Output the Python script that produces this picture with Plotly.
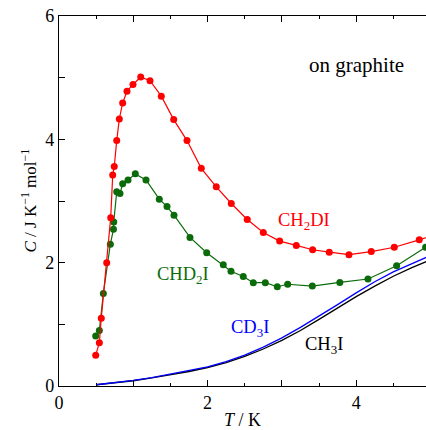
import plotly.graph_objects as go

# CH2DI (red points)
ch2di_T = [0.494, 0.543, 0.569, 0.642, 0.696, 0.723, 0.744, 0.777, 0.812, 0.857, 0.915,
           0.996, 1.10, 1.225, 1.377, 1.544, 1.723, 1.915, 2.117, 2.319, 2.534, 2.750,
           2.970, 3.194, 3.414, 3.638, 3.903, 4.203, 4.513, 4.849, 5.05]
ch2di_C = [0.50, 0.70, 1.10, 2.00, 2.73, 3.42, 3.56, 3.98, 4.33, 4.59, 4.78,
           4.89, 5.01, 4.95, 4.70, 4.32, 3.98, 3.53, 3.23, 2.96, 2.70, 2.49,
           2.35, 2.28, 2.21, 2.17, 2.13, 2.18, 2.25, 2.37, 2.45]

# CHD2I (green points)
chd2i_T = [0.494, 0.543, 0.597, 0.691, 0.733, 0.737, 0.777, 0.821, 0.857, 0.929, 1.027,
           1.171, 1.350, 1.454, 1.548, 1.763, 1.988, 2.211, 2.315, 2.48, 2.615, 2.777,
           2.938, 3.078, 3.41, 3.78, 4.159, 4.545, 4.935]
chd2i_C = [0.81, 0.90, 1.50, 2.30, 2.54, 2.66, 3.15, 3.12, 3.28, 3.34, 3.44,
           3.34, 3.03, 2.91, 2.77, 2.41, 2.16, 1.965, 1.86, 1.775, 1.675, 1.675,
           1.61, 1.65, 1.62, 1.68, 1.735, 1.95, 2.25]

# Smooth curves CD3I (blue) and CH3I (black)
curve_T = [0.5, 0.75, 1.0, 1.25, 1.5, 1.75, 2.0, 2.25, 2.5, 2.75, 3.0, 3.25, 3.5,
           3.75, 4.0, 4.25, 4.5, 4.75, 4.95]
ch3i_C = [0.02, 0.05, 0.085, 0.13, 0.18, 0.235, 0.30, 0.38, 0.48, 0.60, 0.74, 0.90, 1.08,
          1.27, 1.45, 1.62, 1.78, 1.92, 2.02]
cd3i_C = [0.02, 0.05, 0.09, 0.135, 0.19, 0.245, 0.31, 0.395, 0.50, 0.63, 0.78, 0.95, 1.13,
          1.32, 1.51, 1.69, 1.85, 1.99, 2.09]

x_ticks = [0, 1, 2, 3, 4]
x_ticktext = ["0", "", "2", "", "4"]
y_ticks = [0, 1, 2, 3, 4, 5, 6]
y_ticktext = ["0", "", "2", "", "4", "", "6"]

RED = "#ff0000"
GREEN = "#0b6b0b"
BLUE = "#0000ff"
BLACK = "#000000"
FONT = "Liberation Serif"

fig = go.Figure()
fig.add_trace(go.Scatter(x=curve_T, y=ch3i_C, mode="lines", line=dict(color=BLACK, width=1.3),
                         showlegend=False))
fig.add_trace(go.Scatter(x=curve_T, y=cd3i_C, mode="lines", line=dict(color=BLUE, width=1.3),
                         showlegend=False))
fig.add_trace(go.Scatter(x=chd2i_T, y=chd2i_C, mode="lines+markers",
                         line=dict(color=GREEN, width=1.2), marker=dict(color=GREEN, size=7),
                         showlegend=False))
fig.add_trace(go.Scatter(x=ch2di_T, y=ch2di_C, mode="lines+markers",
                         line=dict(color=RED, width=1.2), marker=dict(color=RED, size=7),
                         showlegend=False))

labels = [
    (3.30, 2.66, "CH<sub>2</sub>DI", RED, 18.5),
    (1.67, 1.80, "CHD<sub>2</sub>I", GREEN, 18.5),
    (2.57, 0.93, "CD<sub>3</sub>I", BLUE, 18.5),
    (3.57, 0.65, "CH<sub>3</sub>I", BLACK, 18.5),
    (4.0, 5.2, "on graphite", BLACK, 21),
]
for x, y, t, c, s in labels:
    fig.add_annotation(x=x, y=y, text=t, showarrow=False, font=dict(family=FONT, size=s, color=c))

# y-axis title as a rotated annotation, placed to match the reference
fig.add_annotation(x=-0.083, y=0.5, xref="paper", yref="paper", xanchor="center", yanchor="middle",
                   text="<i>C</i> / J K<sup>−1</sup> mol<sup>−1</sup>", textangle=-90, showarrow=False,
                   font=dict(family=FONT, size=17, color=BLACK))

fig.update_layout(
    width=426, height=430,
    margin=dict(l=59, r=0, t=16, b=44, autoexpand=False),
    plot_bgcolor="white", paper_bgcolor="white",
    font=dict(family=FONT, size=18, color="black"),
)
fig.update_xaxes(
    range=[0, 4.94], showgrid=False, zeroline=False, automargin=False,
    showline=True, linecolor="black", linewidth=1.2, mirror="ticks",
    ticks="inside", ticklen=6, tickwidth=1, tickcolor="black",
    tickvals=x_ticks, ticktext=x_ticktext, ticklabelstandoff=0,
    minor=dict(dtick=0.5, ticks="inside", ticklen=3, tickcolor="black", showgrid=False),
    title=dict(text="<i>T</i> / K", font=dict(family=FONT, size=18), standoff=2),
)
fig.update_yaxes(
    range=[0, 6], showgrid=False, zeroline=False, automargin=False,
    showline=True, linecolor="black", linewidth=1.2, mirror=False,
    ticks="inside", ticklen=6, tickwidth=1, tickcolor="black",
    tickvals=y_ticks, ticktext=y_ticktext, ticklabelstandoff=0,
)

fig.write_html("out.html", config={"displayModeBar": False, "staticPlot": True})

# remove default page margin so the figure sits at the window's top-left corner
with open("out.html", "r", encoding="utf-8") as f:
    html = f.read()
html = html.replace("<head>", "<head><style>html,body{margin:0;padding:0;overflow:hidden;}</style>", 1)
with open("out.html", "w", encoding="utf-8") as f:
    f.write(html)
